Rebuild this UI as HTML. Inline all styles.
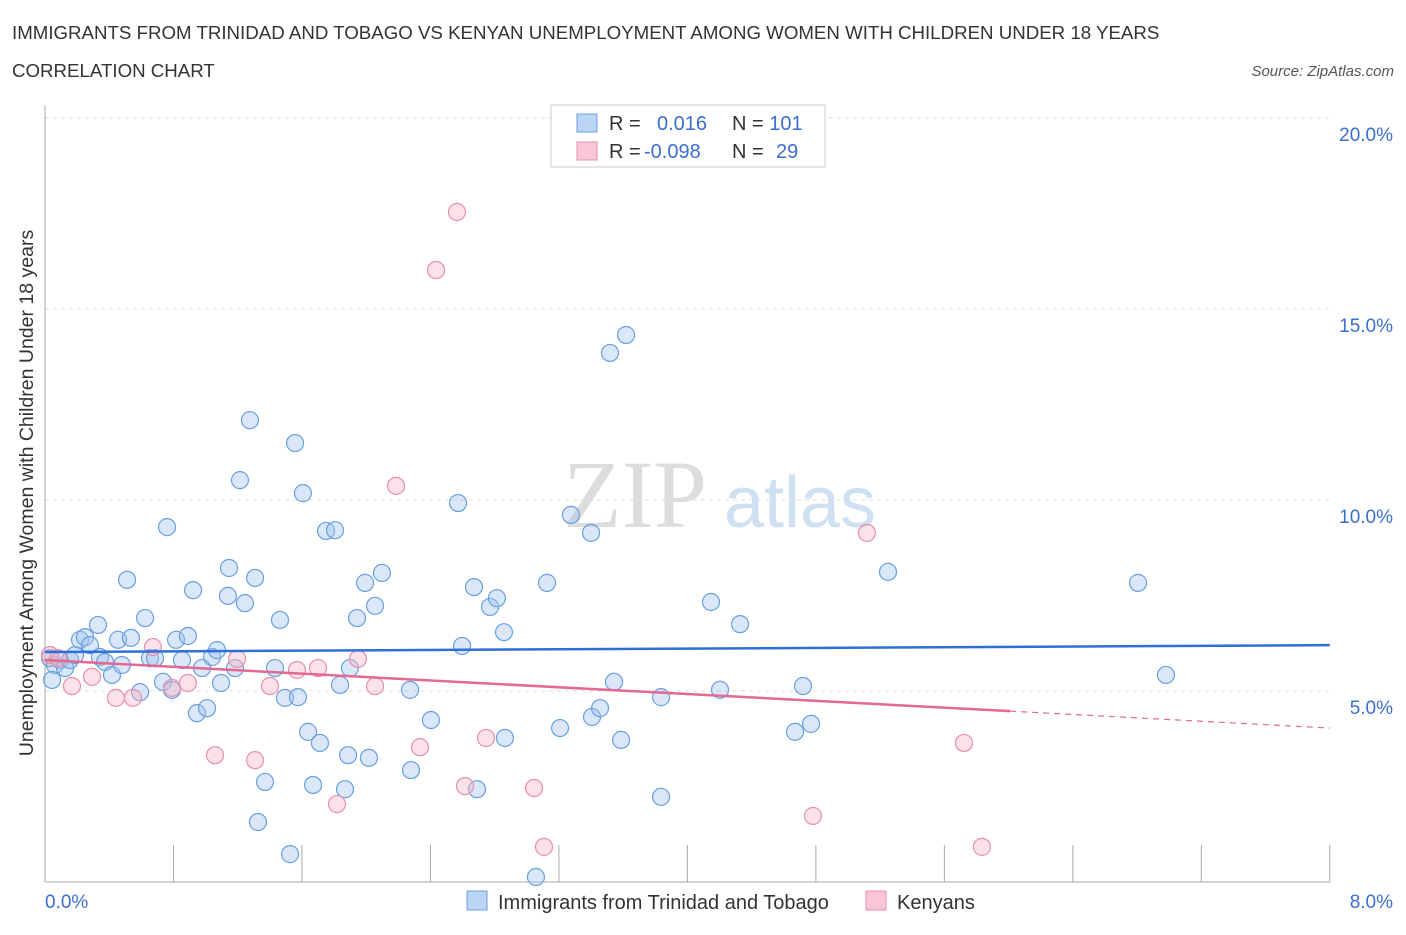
<!DOCTYPE html>
<html><head><meta charset="utf-8"><style>
body{margin:0;background:#fff;font-family:"Liberation Sans",sans-serif;}
</style></head><body>
<svg width="1406" height="930" xmlns="http://www.w3.org/2000/svg" style="font-family:'Liberation Sans',sans-serif">
<text x="12" y="39" font-size="18.7" fill="#333">IMMIGRANTS FROM TRINIDAD AND TOBAGO VS KENYAN UNEMPLOYMENT AMONG WOMEN WITH CHILDREN UNDER 18 YEARS</text>
<text x="12" y="77" font-size="18.7" fill="#333">CORRELATION CHART</text>
<text x="1394" y="76" font-size="15" fill="#555" font-style="italic" text-anchor="end">Source: ZipAtlas.com</text>
<text x="635" y="527" font-size="96" fill="#ddd" font-family="Liberation Serif" text-anchor="middle">ZIP</text>
<text x="800" y="527" font-size="72" fill="#cfe0f3" text-anchor="middle">atlas</text>
<g id="grid"></g><g id="axes"></g><g id="pts"></g><g id="trend"></g>
<text x="33" y="493" font-size="19.5" fill="#333" text-anchor="middle" transform="rotate(-90 33 493)">Unemployment Among Women with Children Under 18 years</text>
<text x="45" y="908" font-size="19" fill="#3a6fd0">0.0%</text>
<text x="1393" y="908" font-size="19" fill="#3a6fd0" text-anchor="end">8.0%</text>
<g>
<rect x="551" y="105" width="274" height="62" fill="#fff" stroke="#ccc"/>
<rect x="577" y="114" width="20" height="18" fill="#bcd4f5" stroke="#6a9fe0"/>
<rect x="577" y="142" width="20" height="18" fill="#f8c6d4" stroke="#e890a8"/>
<text x="609" y="130" font-size="20" fill="#333">R = <tspan fill="#3a6fd0" x="657">0.016</tspan><tspan x="732">N = </tspan><tspan fill="#3a6fd0">101</tspan></text>
<text x="609" y="158" font-size="20" fill="#333">R = <tspan fill="#3a6fd0" x="644">-0.098</tspan><tspan x="732">N = </tspan><tspan fill="#3a6fd0" x="776">29</tspan></text>
</g>
<g>
<rect x="467" y="891" width="20" height="19" fill="#bcd4f5" stroke="#6a9fe0"/>
<text x="498" y="909" font-size="20" fill="#333">Immigrants from Trinidad and Tobago</text>
<rect x="866" y="891" width="20" height="19" fill="#f8c6d4" stroke="#e890a8"/>
<text x="897" y="909" font-size="20" fill="#333">Kenyans</text>
</g>
</svg>
<script>
const yTicks=[5,10,15,20];
const xTicks=[0.8,1.6,2.4,3.2,4.0,4.8,5.6,6.4,7.2,8.0];
const bluePx=[[50,658],[55,665],[60,660],[65,668],[70,660],[75,655],[80,640],[85,637],[90,645],[98,625],[100,657],[105,662],[112,675],[118,640],[122,665],[127,580],[131,638],[140,692],[145,618],[150,658],[155,658],[163,682],[167,527],[172,690],[176,640],[182,660],[188,636],[193,590],[197,713],[202,668],[207,708],[212,657],[217,650],[221,683],[229,568],[228,596],[235,668],[240,480],[245,603],[250,420],[255,578],[265,782],[258,822],[275,668],[280,620],[285,698],[290,854],[295,443],[298,697],[303,493],[308,732],[313,785],[320,743],[326,531],[335,530],[340,685],[345,789],[348,755],[357,618],[350,668],[365,583],[369,758],[375,606],[382,573],[410,690],[411,770],[431,720],[458,503],[462,646],[474,587],[477,789],[490,607],[497,598],[504,632],[505,738],[536,877],[547,583],[560,728],[571,515],[591,533],[592,717],[600,708],[610,353],[614,682],[621,740],[626,335],[661,797],[661,697],[711,602],[720,690],[740,624],[795,732],[803,686],[811,724],[888,572],[1138,583],[1166,675],[52,680]];
const pinkPx=[[50,655],[58,658],[72,686],[92,677],[116,698],[133,698],[153,647],[172,688],[188,683],[215,755],[237,659],[255,760],[270,686],[297,670],[318,668],[337,804],[358,659],[375,686],[396,486],[420,747],[436,270],[457,212],[465,786],[486,738],[534,788],[544,847],[813,816],[867,533],[964,743],[982,847]];
const blueX=bluePx.map(p=>+((p[0]-45)/160.6).toFixed(3));
const blueY=bluePx.map(p=>+((882-p[1])/38.2).toFixed(2));
const pinkX=pinkPx.map(p=>+((p[0]-45)/160.6).toFixed(3));
const pinkY=pinkPx.map(p=>+((882-p[1])/38.2).toFixed(2));
const blueTrend=[6.02,6.20];
const pinkTrend=[5.81,4.03];
const X=v=>45+v*160.6, Y=v=>882-v*38.2;
const NS="http://www.w3.org/2000/svg";
function mk(t,a,par){const e=document.createElementNS(NS,t);for(const k in a)e.setAttribute(k,a[k]);document.getElementById(par).appendChild(e);return e;}
yTicks.forEach(t=>{
 const l=mk('line',{x1:45,x2:1330,y1:Y(t),y2:Y(t),stroke:'#ddd','stroke-dasharray':'4,4'},'grid');
 
 
 const tx=mk('text',{x:1393,y:Y(t)+23,'font-size':19,fill:'#3a6fd0','text-anchor':'end'},'grid');tx.textContent=t.toFixed(1)+'%';
 
 
});
const ax=mk('line',{x1:45,x2:45,y1:105,y2:882,stroke:'#aaa'},'axes');


const bx=mk('line',{x1:45,x2:1330,y1:882,y2:882,stroke:'#aaa'},'axes');


xTicks.forEach(t=>{
 const l=mk('line',{x1:X(t),x2:X(t),y1:845,y2:882,stroke:'#aaa'},'axes');
 
 
});
blueX.forEach((x,i)=>{
 const c=mk('circle',{cx:X(x),cy:Y(blueY[i]),r:8.5,fill:'rgba(160,195,240,0.4)',stroke:'#6a9fe0','stroke-width':1.2},'pts');
 
 
});
pinkX.forEach((x,i)=>{
 const c=mk('circle',{cx:X(x),cy:Y(pinkY[i]),r:8.5,fill:'rgba(245,180,198,0.4)',stroke:'#e890a8','stroke-width':1.2},'pts');
 
 
});
const bl=mk('line',{x1:X(0),x2:X(8),y1:Y(blueTrend[0]),y2:Y(blueTrend[1]),stroke:'#2d6fd6','stroke-width':2.5},'trend');


const xs=6.01, ym=pinkTrend[0]+(pinkTrend[1]-pinkTrend[0])*xs/8;
const pl=mk('line',{x1:X(0),x2:X(xs),y1:Y(pinkTrend[0]),y2:Y(ym),stroke:'#e46890','stroke-width':2.5},'trend');


const pd=mk('line',{x1:X(xs),x2:X(8),y1:Y(ym),y2:Y(pinkTrend[1]),stroke:'#e46890','stroke-width':1.2,'stroke-dasharray':'6,5'},'trend');


</script>
</body></html>
